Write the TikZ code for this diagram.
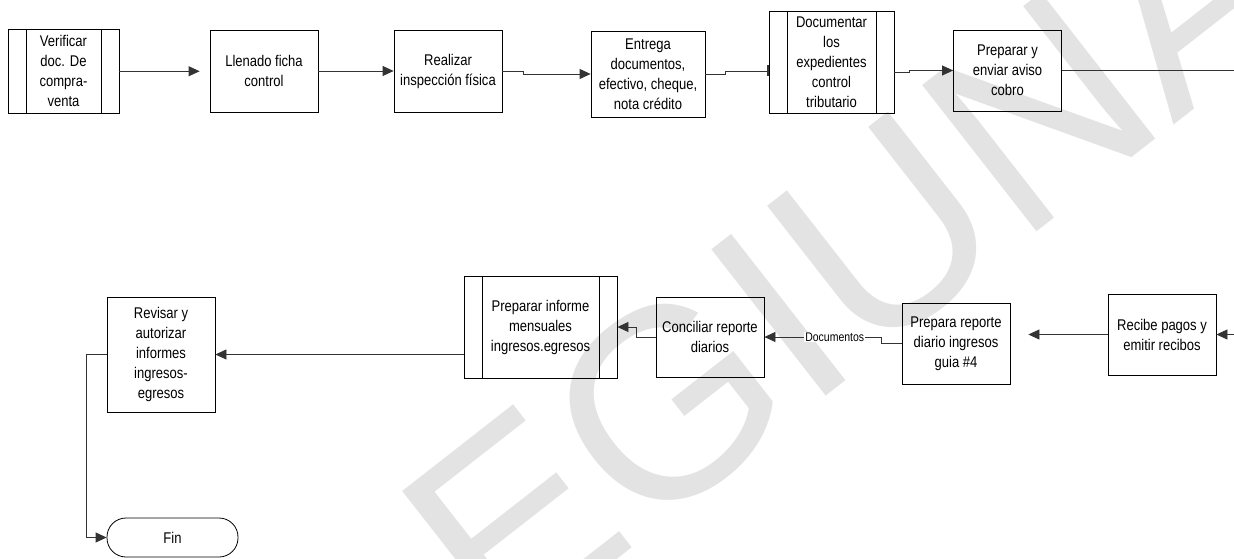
\documentclass[tikz,border=0pt]{standalone}
\usepackage{fontspec}
\setmainfont{Liberation Sans}[FakeStretch=0.84]
\newfontfamily\wmfont{Liberation Sans}
\usetikzlibrary{arrows.meta,calc}
\begin{document}
\begin{tikzpicture}[x=1pt,y=1pt,
  box/.style={draw=black, line width=0.8pt, inner sep=0pt, align=center,
    font=\fontsize{15.5}{20}\selectfont},
  sub/.style={box, path picture={
    \draw[line width=0.8pt] ([xshift=18pt]path picture bounding box.north west) -- ([xshift=18pt]path picture bounding box.south west);
    \draw[line width=0.8pt] ([xshift=-18pt]path picture bounding box.north east) -- ([xshift=-18pt]path picture bounding box.south east);}},
  conn/.style={draw=black!80, line width=0.8pt},
  arr/.style={conn, -{Triangle[length=11pt,width=10pt]}},
  lbl/.style={fill=white, inner sep=1pt, font=\fontsize{12.5}{14}\selectfont},
]
\useasboundingbox (0,0) rectangle (1234,558);
\begin{scope}
\clip (0,0) rectangle (1234,558);
\node[text=black!11, rotate=38, inner sep=0pt, font=\wmfont\fontsize{270}{270}\selectfont] (wm) at (850,298) {EGIUNA};
\end{scope}

% top row
\node[sub, minimum width=111pt, minimum height=83.5pt] (ver) at (63.5,486.75) {Verificar\\doc. De\\compra-\\venta};
\node[box, minimum width=108pt, minimum height=82pt] (lle) at (264,487) {Llenado ficha\\control};
\node[box, minimum width=108pt, minimum height=82pt] (rea) at (448,487) {Realizar\\inspección física};
\node[box, minimum width=114pt, minimum height=86pt] (ent) at (648,484) {Entrega\\documentos,\\efectivo, cheque,\\nota crédito};
\node[sub, minimum width=125pt, minimum height=102pt] (doc) at (831.5,496) {Documentar\\los\\expedientes\\control\\tributario};
\node[box, minimum width=108pt, minimum height=81pt] (pre) at (1007.5,487.5) {Preparar y\\enviar aviso\\cobro};
\coordinate (outR) at (1234,487.5);

% bottom row
\coordinate (inR) at (1234,223.5);
\node[box, minimum width=108pt, minimum height=81pt] (rec) at (1162,223.5) {Recibe pagos y\\emitir recibos};
\node[box, minimum width=108pt, minimum height=81pt] (prd) at (956,214.5) {Prepara reporte\\diario ingresos\\guia \#4};
\node[box, minimum width=108pt, minimum height=80pt] (con) at (710,221) {Conciliar reporte\\diarios};
\node[sub, minimum width=153pt, minimum height=102pt] (inf) at (540.5,231) {Preparar informe\\mensuales\\ingresos.egresos};
\node[box, minimum width=108pt, minimum height=115pt] (rev) at (161,203.5) {Revisar y\\autorizar\\informes\\ingresos-\\egresos};
\node[box, minimum width=131pt, minimum height=39pt, rounded corners=19pt] (fin) at (172.5,20.5) {Fin};

% connectors top
\draw[arr, shorten >=10pt] (ver.east) -- (ver.east -| lle.west);
\draw[arr] (lle.east) -- (rea.west);
\draw[arr] (rea.east) -- ++(21,0) |- (ent.west);
\draw[conn, -{Bar[width=11pt,line width=1.2pt]}] (ent.east) -- ++(20,0) |- ([yshift=-9pt]doc.west);
\draw[arr] ([yshift=-10pt]doc.east) -- ++(15,0) |- (pre.west);
\draw[conn] (pre.east) -- (outR);

% connectors bottom
\draw[arr] (inR) -- (rec.east);
\draw[arr, shorten >=18pt] (rec.west) -- (rec.west -| prd.east);
\draw[arr] (prd.west) -- ++(-20,0) |- (con.east) node[pos=0.7, lbl] {Documentos};
\draw[arr] (con.west) -- ++(-19,0) |- (inf.east);
\draw[arr] (inf.west |- rev.east) -- (rev.east);
\draw[arr] (rev.west) -- ++(-20,0) |- (fin.west);
\end{tikzpicture}
\end{document}
